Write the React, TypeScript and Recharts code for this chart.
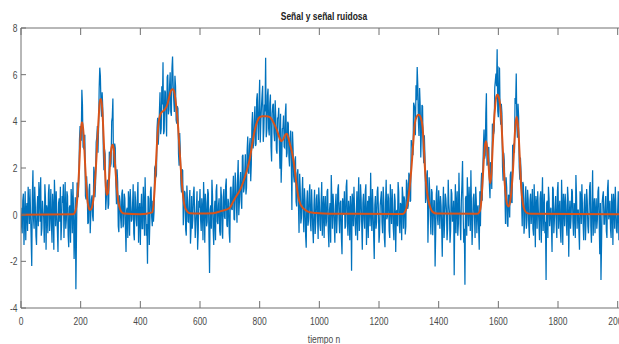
import React from 'react';
import { LineChart, Line, XAxis, YAxis } from 'recharts';

const chartTitle = 'Señal y señal ruidosa';
const xAxisLabel = 'tiempo n';
const xTicks = [0, 200, 400, 600, 800, 1000, 1200, 1400, 1600, 1800, 2000];
const yTicks = [-4, -2, 0, 2, 4, 6, 8];
const xDomain = [0, 2048];
const yDomain = [-4, 8];

// clean signal (sample index, value)
const cleanT = [0,175,180,185,190,195,199,203,206,210,214,218,222,226,231,236,241,246,251,256,261,265,269,273,277,281,284,287,291,295,299,303,307,311,315,319,323,327,332,338,345,400,440,444,448,452,456,460,466,472,478,484,490,496,502,508,513,518,523,527,531,535,539,543,547,552,558,566,600,644,670,700,711,722,734,745,756,767,776,784,792,800,810,822,834,842,850,857,865,873,880,887,891,896,902,907,913,918,923,929,935,941,951,968,990,1035,1280,1290,1297,1303,1309,1315,1320,1326,1333,1340,1346,1350,1353,1358,1365,1372,1380,1393,1530,1538,1543,1547,1551,1555,1559,1563,1567,1570,1573,1577,1581,1585,1589,1593,1597,1601,1605,1609,1613,1617,1621,1625,1630,1635,1640,1645,1649,1653,1657,1661,1665,1669,1673,1677,1682,1688,1695,1710,2048];
const cleanV = [0,0.02,0.08,0.3,0.9,2.0,3.2,3.95,3.95,3.4,2.4,1.4,0.7,0.35,0.2,0.25,0.5,1.1,2.0,3.2,4.3,4.95,4.95,4.4,3.3,2.1,1.3,0.85,0.9,1.5,2.3,2.85,3.0,2.8,2.2,1.5,0.9,0.5,0.25,0.1,0.05,0.02,0.1,0.4,1.1,2.1,3.1,3.8,4.25,4.4,4.45,4.55,4.7,5.0,5.3,5.38,5.3,4.9,4.3,3.7,2.9,2.1,1.4,0.85,0.45,0.25,0.12,0.06,0.05,0.06,0.15,0.3,0.55,0.8,1.05,1.4,1.85,2.4,3.1,3.65,4.0,4.18,4.22,4.22,4.18,4.05,3.85,3.65,3.35,3.15,3.25,3.45,3.47,3.3,3.0,2.75,2.35,1.9,1.35,0.8,0.5,0.35,0.22,0.1,0.07,0.04,0.03,0.2,0.6,1.2,2.06,3.1,3.9,4.2,4.28,4.15,3.75,3.0,2.2,1.3,0.65,0.3,0.12,0.05,0.04,0.15,0.6,1.4,2.3,2.95,3.15,2.8,2.2,1.6,1.35,1.8,2.9,3.9,4.6,5.05,5.15,5.05,4.8,4.3,3.3,2.3,1.4,0.8,0.42,0.35,0.6,1.2,1.9,2.9,3.8,4.2,3.9,3.2,2.1,1.1,0.5,0.2,0.08,0.04,0.02];

// noisy signal: segments of values every 4 samples (first set at start, second set at start + 2)
const noisyStep = 4;
const noisyStarts = [0, 180, 344, 444, 572, 672, 1004, 1284, 1404, 1540, 1704];
const noisyA = [0.3,-0.8,0.9,-0.2,-1.1,0.5,1.2,-0.4,0.1,-2.2,1.9,-0.6,0.4,-1.3,0.8,1.4,-0.3,-0.9,0.6,-0.1,1.3,-1.5,0.2,0.9,-0.7,1.1,-1.2,0.3,1.5,-0.5,0.0,-1.6,0.7,1.2,-0.4,0.5,-1.0,1.4,-0.2,0.8,-1.4,0.4,1.1,-0.8,0.2];
const noisyB = [-0.8,-3.2,1.35,0.75,3.2,3.2,5.35,2.9,3.4,0.8,1.65,-0.4,1.05,-0.8,0.65,-0.05,2.05,0.75,3.1,3.8,3.7,6.3,4.78,5.25,2.7,2.8,0.2,1.35,0.25,2.7,2.05,4.0,4.98,2.05,2.85,0.45,1.4,-0.75,0.55,-0.58,1.08];
const noisyC = [-0.4,0.7,-1.6,0.3,1.0,-0.9,0.5,-0.2,1.3,-1.1,0.6,-0.5,1.4,0.1,-1.3,0.9,-0.6,0.4,1.6,-0.9,-2.1,0.7,-0.3,1.2,-0.5];
const noisyD = [-0.3,2.0,1.6,3.7,3.0,4.45,3.45,5.5,6.53,3.58,5.25,3.35,6.0,4.5,6.1,4.23,6.78,4.92,5.95,4.05,4.65,2.6,3.5,1.3,1.95,-0.45,1.02,-0.65,1.25,-0.3,0.57,-1.24];
const noisyE = [0.8,-0.2,1.2,-1.0,0.3,-1.5,0.6,1.1,-0.7,0.2,1.4,-1.2,0.5,-0.3,0.9,-2.5,0.4,1.5,-0.6,0.1,-1.1,1.3,-0.4,0.7,-0.9];
const noisyF = [0.75,-1.03,1.1,-0.18,1.55,-0.53,0.49,-1.2,1.2,0.2,1.67,-0.24,1.26,-0.35,2.34,0.53,1.83,0.25,2.57,1.13,2.59,1.15,3.35,1.75,3.28,2.18,4.4,3.08,4.65,3.03,5.2,3.2,5.78,4.0,5.12,3.12,4.72,6.72,3.61,5.4,3.39,5.15,2.28,4.7,3.5,4.9,2.78,4.14,4.58,1.97,1.37,3.68,4.25,2.87,4.76,2.65,3.9,2.07,3.6,0.2,2.82,1.38,2.5,0.35,1.95,-0.78,1.08,-0.13,1.61,-0.75,0.61,-1.42,1.04,-0.18,1.3,-0.71,0.28,-1.22,1.07,-0.33,0.87,-1.04,0.56];
const noisyG = [-0.7,1.4,0.2,-1.0,0.8,-0.3,1.1,-1.4,0.5,1.7,-0.6,0.3,-1.2,0.9,-0.1,1.3,-0.8,0.6,-1.7,0.4,1.0,-0.5,1.5,-0.9,0.2,0.8,-2.4,0.6,1.2,-0.4,0.1,-1.1,1.6,-0.2,0.7,-1.5,0.9,-0.6,1.3,0.0,-1.0,0.5,1.8,-0.7,0.3,-1.9,0.8,-0.3,1.2,-1.2,0.4,1.0,-0.8,0.6,-1.4,1.5,-0.1,0.7,-1.0,0.3,1.1,-0.6,0.9,-1.6,0.2,1.4,-0.4,0.5,-1.1,0.8];
const noisyH = [0.78,-0.85,1.5,0.25,1.8,0.55,3.2,3.0,4.8,4.5,5.55,6.33,3.98,5.43,2.45,4.7,2.8,3.4,0.5,1.7,-1.2,1.6,-0.1,1.1,-0.88,0.6,-2.22,0.86,-0.15,1.05];
const noisyI = [-0.6,0.4,-1.8,1.2,-0.3,0.7,-1.1,1.5,0.1,-0.7,0.9,-0.2,-2.6,1.3,0.5,-0.9,1.8,-0.4,0.6,2.3,-1.2,-3.0,0.8,1.6,-0.5,0.3,1.9,-1.3,0.7,-0.1,1.2,-0.8,0.4,-1.5];
const noisyJ = [-0.5,1.8,1.9,3.65,2.55,5.2,2.25,2.9,0.7,2.15,3.9,3.45,5.45,6.05,7.09,4.18,6.27,3.85,4.35,1.45,2.3,-0.4,1.15,-0.52,0.78,1.7,0.55,3.0,3.05,5.0,6.05,3.3,4.2,1.5,1.85,-0.5,1.28,-0.4,1.22,-0.22,0.65];
const noisyK = [-1.0,0.9,0.2,-0.6,1.3,-1.4,0.5,1.0,-0.3,0.7,-1.2,1.6,0.0,-0.8,-2.8,0.6,1.2,-0.5,0.3,-1.6,1.1,-0.2,0.8,-1.0,1.4,0.1,-0.7,1.5,-1.3,0.4,0.9,-0.4,1.2,-1.8,0.6,-0.1,1.0,-0.9,0.3,1.7,-0.6,0.2,-1.5,0.8,1.3,-0.3,0.5,-1.1,1.1,-0.5,0.0,1.4,-1.2,1.9,0.3,-0.8,0.7,-0.2,1.2,-1.7,-2.8,0.5,1.0,-0.4,0.8,-1.0,1.5,0.1,-0.6,0.9,-1.3,0.4,1.2,-0.7,0.2,-1.1,1.3,-0.3,0.6,-1.5,1.0,-0.2,0.7,-0.9,1.1,-0.4];

const noisyA2 = [-0.5,0.6,-1.3,1.0,0.2,-0.7,0.4,1.1,-1.0,0.8,-0.2,1.2,-0.9,0.3,-0.5,0.9,1.6,-0.6,0.1,-1.2,0.7,0.4,-0.8,1.3,0.0,-0.4,0.9,-1.5,0.6,1.0,-0.7,0.5,-0.3,-1.1,0.8,1.3,0.2,-0.6,1.0,-0.9,0.3,-1.2,0.6,1.4,-1.9];
const noisyB2 = [0.75,-0.85,1.35,1.6,3.8,3.2,4.7,2.85,3.4,0.65,1.05,-0.33,1.32,0.02,0.83,-0.28,1.82,1.4,3.3,2.65,5.4,5.95,4.2,4.6,1.9,2.6,0.7,1.5,0.45,2.5,2.2,4.17,2.05,3.05,1.3,1.95,-0.5,0.83,-0.13,0.9,-0.54];
const noisyC2 = [0.9,-0.5,0.2,-1.0,0.6,1.1,-0.3,0.4,-0.8,1.0,-0.2,0.7,-1.2,0.5,0.1,-0.6,1.2,-0.9,0.3,-0.4,0.8,-1.3,1.0,-0.1,0.6];
const noisyD2 = [0.15,2.1,1.7,4.15,3.55,5.25,3.68,4.72,3.45,5.32,4.3,5.9,4.3,5.5,4.4,6.26,5.56,4.4,5.5,3.9,4.55,2.1,2.7,0.95,1.9,0.25,0.93,-0.9,0.62,-0.32,1.06,-0.64];
const noisyE2 = [-0.6,0.9,0.1,-0.4,1.0,-0.8,0.3,-0.2,0.7,-1.1,0.5,0.9,-0.5,1.1,-0.9,0.2,-0.6,0.8,-1.3,0.6,1.0,-0.3,0.4,-0.7,1.2];
const noisyF2 = [-0.74,0.78,-0.09,1.23,-0.44,0.68,-0.8,1.15,0.25,1.03,-0.19,1.81,0.4,1.6,-0.02,1.38,0.59,2.51,0.95,1.81,0.87,2.75,1.85,2.96,1.43,3.84,2.84,4.02,2.94,4.92,3.85,4.84,3.09,4.61,5.52,3.62,4.42,3.32,5.1,3.69,4.77,2.92,4.34,4.75,3.15,4.14,2.61,4.16,3.02,4.32,2.37,3.71,2.91,4.32,2.46,3.98,2.48,3.28,2.3,3.56,1.65,2.29,0.57,1.75,0.43,1.75,-0.38,0.84,0.08,1.13,-0.9,0.56,-0.47,0.91,-0.3,1.09,-0.62,0.38,-0.83,0.67,-0.13,1.16,-0.44];
const noisyG2 = [0.5,-0.9,0.8,0.3,-0.5,1.0,-0.7,0.2,-1.2,0.6,0.9,-0.4,0.4,-0.8,1.1,-0.2,0.5,-1.0,0.7,0.0,-0.6,1.2,-0.3,0.6,-1.1,0.3,0.9,-0.5,0.2,-0.9,1.0,0.4,-0.7,1.3,-0.4,0.5,-0.2,1.0,-1.3,0.6,0.8,-0.5,0.1,1.1,-0.9,0.4,-0.6,1.0,0.2,-0.8,0.7,-0.3,1.2,-1.0,0.5,-0.2,0.9,-0.7,1.3,-0.4,0.3,-1.1,0.6,0.1,-0.5,1.0,-0.8,0.4,1.2,-0.6];
const noisyH2 = [0.61,-0.5,1.32,0.4,1.7,0.6,3.0,2.55,4.7,3.4,4.9,5.56,3.37,4.7,3.55,4.65,2.2,2.45,0.7,1.9,0.2,0.98,-0.85,0.96,-0.09,0.59,-0.83,1.25,-0.45,0.35];
const noisyI2 = [0.8,-0.5,0.3,-1.0,0.9,0.2,-0.6,0.5,-1.2,1.1,-0.3,0.6,0.0,-0.8,1.0,-0.4,0.4,-1.1,1.3,0.1,-0.6,0.7,-0.9,0.5,1.2,-0.7,0.2,-0.4,0.9,-1.0,0.6,0.3,-0.6,1.0];
const noisyJ2 = [1.2,0.6,2.95,2.4,4.32,2.1,2.85,1.3,2.25,1.1,3.75,3.6,5.75,5.5,4.43,6.3,4.3,4.75,2.05,2.65,0.95,1.6,-0.38,0.85,-0.12,1.85,0.5,2.5,2.65,4.75,3.85,4.75,2.05,2.45,0.55,1.4,-0.82,0.66,-0.6,1.07,-0.45];
const noisyK2 = [0.6,-0.4,1.1,-0.9,0.3,0.8,-0.6,0.2,-1.1,1.0,0.4,-0.7,0.9,-0.3,0.5,-1.0,0.7,0.1,-0.5,1.2,-0.8,0.3,-0.4,1.0,-0.6,0.6,-1.2,0.2,0.9,-0.5,0.4,-0.9,0.7,0.0,-0.6,1.1,-0.3,0.5,-1.0,0.8,0.2,-0.7,1.0,-0.4,0.3,-1.1,0.9,-0.2,0.6,-0.8,1.2,-0.5,0.4,-0.9,0.7,0.1,-0.6,1.0,-0.3,0.5,-1.2,0.8,-0.4,0.3,-0.7,1.1,-0.2,0.6,-1.0,0.4,0.9,-0.6,0.2,-0.8,1.0,-0.3,0.5,-1.1,0.7,-0.2,0.4,-0.9,1.1,-0.5,0.3,-0.7];

const noisySegments = [noisyA, noisyB, noisyC, noisyD, noisyE, noisyF, noisyG, noisyH, noisyI, noisyJ, noisyK];
const noisySegments2 = [noisyA2, noisyB2, noisyC2, noisyD2, noisyE2, noisyF2, noisyG2, noisyH2, noisyI2, noisyJ2, noisyK2];

const cleanData = cleanT.map((t, i) => ({ x: t, y: cleanV[i] }));
const noisyData: { x: number; y: number }[] = [];
noisySegments.forEach((seg, s) => {
  const seg2 = noisySegments2[s];
  seg.forEach((v, i) => {
    noisyData.push({ x: noisyStarts[s] + i * noisyStep, y: v });
    if (i < seg2.length) noisyData.push({ x: noisyStarts[s] + i * noisyStep + 2, y: seg2[i] });
  });
});

const FONT = "'Liberation Sans', Arial, Helvetica, sans-serif";
const SX = 0.77;
const AXIS = '#707070';
const TXT = '#4a4a4a';

const BottomTick = (props: any) => {
  const { x, y, payload } = props;
  return (
    <g>
      <line x1={x} x2={x} y1={y} y2={y - 7} stroke={AXIS} strokeWidth={1} />
      <text transform={`translate(${x},${y + 17}) scale(${SX},1)`} textAnchor="middle" fontSize={11} fill={TXT} fontFamily={FONT}>
        {payload.value}
      </text>
    </g>
  );
};

const TopTick = (props: any) => {
  const { x, y } = props;
  return <line x1={x} x2={x} y1={y} y2={y + 7} stroke={AXIS} strokeWidth={1} />;
};

const LeftTick = (props: any) => {
  const { x, y, payload } = props;
  return (
    <g>
      <line x1={x} x2={x + 5} y1={y} y2={y} stroke={AXIS} strokeWidth={1} />
      <text transform={`translate(${x - 3.5},${y + 4}) scale(${SX},1)`} textAnchor="end" fontSize={11} fill={TXT} fontFamily={FONT}>
        {payload.value}
      </text>
    </g>
  );
};

export default function App() {
  return (
    <div style={{ position: 'absolute', left: 0, top: 0, width: 619, height: 344, overflow: 'hidden', background: '#fff' }}>
      <LineChart width={650} height={344} margin={{ top: 27, right: 18, bottom: 35, left: 20 }}>
        <XAxis
          xAxisId="bottom"
          dataKey="x"
          type="number"
          domain={xDomain}
          ticks={xTicks}
          allowDataOverflow
          height={1}
          tickSize={0}
          tickMargin={0}
          tickLine={false}
          tick={<BottomTick />}
          axisLine={{ stroke: AXIS }}
          interval={0}
        />
        <XAxis
          xAxisId="top"
          orientation="top"
          dataKey="x"
          type="number"
          domain={xDomain}
          ticks={xTicks}
          allowDataOverflow
          height={1}
          tickSize={0}
          tickMargin={0}
          tickLine={false}
          tick={<TopTick />}
          axisLine={{ stroke: AXIS }}
          interval={0}
        />
        <YAxis
          type="number"
          domain={yDomain}
          ticks={yTicks}
          allowDataOverflow
          width={1}
          tickSize={0}
          tickMargin={0}
          tickLine={false}
          tick={<LeftTick />}
          axisLine={{ stroke: AXIS }}
          interval={0}
        />
        <Line
          xAxisId="bottom"
          data={noisyData}
          dataKey="y"
          type="linear"
          stroke="#0072BD"
          strokeWidth={1.25}
          dot={false}
          activeDot={false}
          isAnimationActive={false}
        />
        <Line
          xAxisId="bottom"
          data={cleanData}
          dataKey="y"
          type="monotone"
          stroke="#D95319"
          strokeWidth={2}
          dot={false}
          activeDot={false}
          isAnimationActive={false}
        />
      </LineChart>
      <svg width={619} height={344} style={{ position: 'absolute', left: 0, top: 0, pointerEvents: 'none' }}>
        <text transform={`translate(324,20) scale(${SX},1)`} textAnchor="middle" fontSize={11} fontWeight="bold" fill="#222" fontFamily={FONT}>
          {chartTitle}
        </text>
        <text transform={`translate(324,342.5) scale(${SX},1)`} textAnchor="middle" fontSize={11} fill={TXT} fontFamily={FONT}>
          {xAxisLabel}
        </text>
      </svg>
    </div>
  );
}
